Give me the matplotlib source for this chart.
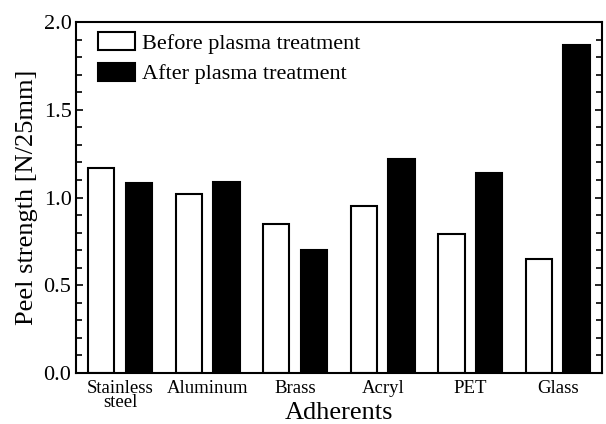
import numpy as np
import matplotlib
matplotlib.use("Agg")
import matplotlib.pyplot as plt
from matplotlib.ticker import MultipleLocator, FormatStrFormatter

# Peel strength
adherents = ["Stainless\nsteel", "Aluminum", "Brass", "Acryl", "PET", "Glass"]
before = [1.17, 1.02, 0.85, 0.95, 0.79, 0.65]
after = [1.08, 1.09, 0.70, 1.22, 1.14, 1.87]

plt.rcParams['font.family'] = ['Liberation Serif', 'DejaVu Serif']

fig = plt.figure(figsize=(6.06, 4.24), dpi=100)
ax = fig.add_axes([0.126, 0.1203, 0.8666, 0.8277])

x = np.arange(len(adherents))
w = 0.30
off = 0.215
ax.bar(x - off, before, w, color='white', edgecolor='black', linewidth=1.5,
       label="Before plasma treatment")
ax.bar(x + off, after, w, color='black', edgecolor='black', linewidth=1.5,
       label="After plasma treatment")

ax.set_xlim(-0.5, len(adherents) - 0.5)
ax.set_ylim(0, 2.0)
ax.set_xticks(x)
ax.set_xticklabels(adherents, fontsize=13.5, linespacing=0.75)
ax.tick_params(axis='x', length=0, pad=5)
ax.yaxis.set_major_locator(MultipleLocator(0.5))
ax.yaxis.set_minor_locator(MultipleLocator(0.1))
ax.yaxis.set_major_formatter(FormatStrFormatter('%.1f'))
ax.tick_params(axis='y', which='both', direction='in', right=True, labelsize=16,
               width=1.2)
ax.tick_params(axis='y', which='major', length=5)
ax.tick_params(axis='y', which='minor', length=4)
for s in ax.spines.values():
    s.set_linewidth(1.5)

ax.set_xlabel("Adherents", fontsize=19, va='baseline')
ax.xaxis.set_label_coords(0.5, -0.13)
ax.set_ylabel("Peel strength [N/25mm]", fontsize=19, labelpad=4)

ax.legend(loc='upper left', frameon=False, fontsize=16, handlelength=1.65,
          handleheight=0.85, handletextpad=0.3, labelspacing=0.42,
          borderaxespad=0.3, bbox_to_anchor=(0.012, 1.016))

plt.savefig("out.png", dpi=100)
